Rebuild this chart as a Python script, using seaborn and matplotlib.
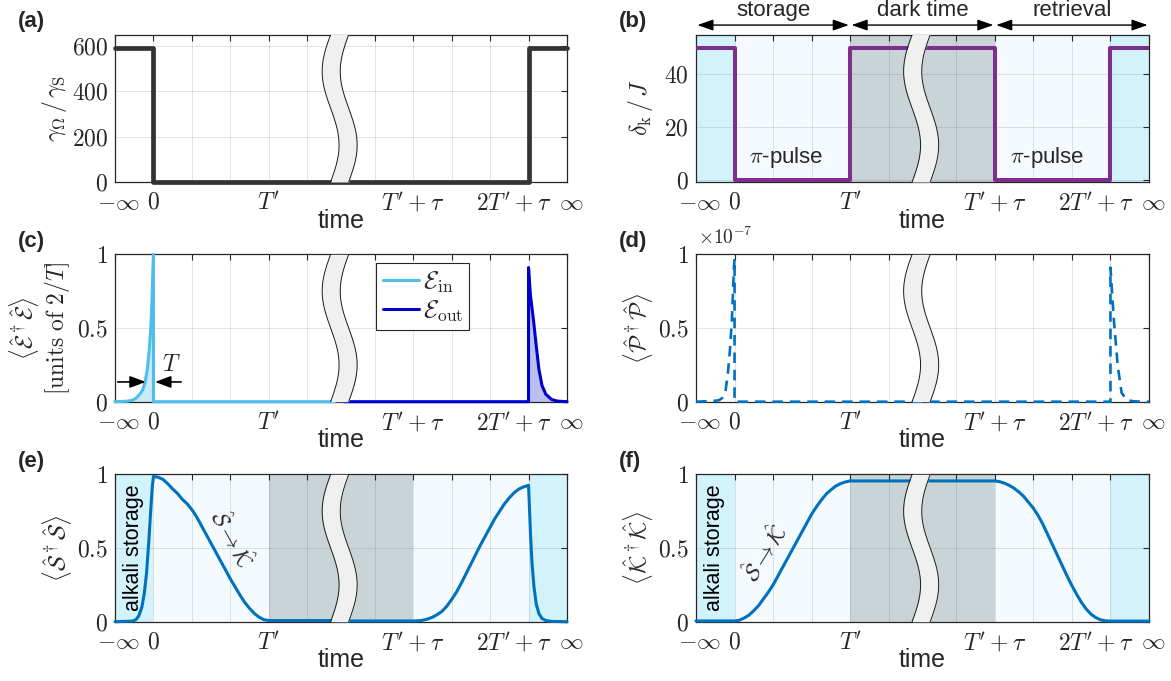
import numpy as np
import matplotlib
matplotlib.use("Agg")
import matplotlib.pyplot as plt
import matplotlib.transforms as mtrans
import seaborn as sns

# --- time axis (broken axis, in grid units) ---
T_NEG_INF, T_ZERO, T_PRIME, T_PRIME_TAU, T_2PRIME_TAU, T_INF = 0, 1, 4, 7.75, 10.75, 11.75
GRID_X = [0, 1, 2, 3, 4, 5, 6.75, 7.75, 8.75, 9.75, 10.75, 11.75]
XTICK_LABELS = {0: r"$-\infty$", 1: r"$0$", 4: r"$T'$", 7.75: r"$T'+\tau$",
                10.75: r"$2T'+\tau$", 11.75: r"$\infty$"}

# --- (a) control field ---
A_T = [0, 1, 1, 10.75, 10.75, 11.75]
A_Y = [590, 590, 0, 0, 590, 590]

# --- (b) detuning ---
B_T = [0, 1, 1, 4, 4, 7.75, 7.75, 10.75, 10.75, 11.75]
B_Y = [50, 50, 0, 0, 50, 50, 0, 0, 50, 50]

# --- (c) photon fields ---
EIN_T = [0, 0.3, 0.45, 0.55, 0.64, 0.72, 0.78, 0.84, 0.89, 0.93, 0.96, 0.985, 1.0, 1.0, 5.7]
EIN_Y = [0, 0.003, 0.01, 0.025, 0.05, 0.08, 0.13, 0.22, 0.35, 0.5, 0.68, 0.88, 1.0, 0, 0]
EOUT_T = [5.95, 10.75, 10.75, 10.8, 10.88, 10.95, 11.02, 11.1, 11.2, 11.35, 11.5, 11.75]
EOUT_Y = [0, 0, 0.91, 0.72, 0.55, 0.38, 0.22, 0.11, 0.05, 0.015, 0.004, 0]

# --- (d) polarization (x1e-7) ---
P_T = [0, 0.45, 0.6, 0.68, 0.76, 0.83, 0.88, 0.93, 0.96, 0.985, 1.0, 1.0,
       10.75, 10.75, 10.84, 10.94, 11.04, 11.18, 11.35, 11.55, 11.75]
P_Y = [0, 0.005, 0.01, 0.025, 0.06, 0.2, 0.35, 0.55, 0.75, 0.92, 0.97, 0,
       0, 0.91, 0.55, 0.24, 0.06, 0.01, 0.003, 0, 0]

# --- (e) alkali spin wave ---
S_T = [0, 0.45, 0.55, 0.62, 0.7, 0.76, 0.82, 0.88, 0.93, 0.97, 1.0,
       1.125, 1.25, 1.375, 1.5, 1.625, 1.75, 1.875, 2.0, 2.125, 2.25, 2.375, 2.5,
       2.625, 2.75, 2.875, 3.0, 3.125, 3.25, 3.375, 3.5, 3.625, 3.75, 3.875, 4.0,
       5.7, 5.95, 7.75, 7.875, 8.0, 8.125, 8.25, 8.375, 8.5, 8.625, 8.75, 8.875, 9.0,
       9.125, 9.25, 9.375, 9.5, 9.625, 9.75, 9.875, 10.0, 10.125, 10.25, 10.375, 10.5,
       10.625, 10.75, 10.77, 10.8, 10.84, 10.89, 10.95, 11.02, 11.1, 11.2, 11.35, 11.75]
S_Y = [0, 0.004, 0.015, 0.04, 0.1, 0.19, 0.33, 0.55, 0.76, 0.92, 0.985,
       0.98, 0.965, 0.935, 0.9, 0.87, 0.83, 0.8, 0.76, 0.71, 0.65, 0.59, 0.53,
       0.47, 0.41, 0.35, 0.29, 0.235, 0.18, 0.13, 0.09, 0.055, 0.03, 0.013, 0.008,
       0.008, 0.005, 0.005, 0.006, 0.01, 0.018, 0.03, 0.048, 0.07, 0.105, 0.15, 0.2, 0.26,
       0.325, 0.39, 0.455, 0.52, 0.58, 0.64, 0.7, 0.75, 0.8, 0.84, 0.875, 0.9,
       0.915, 0.925, 0.8, 0.6, 0.4, 0.24, 0.12, 0.055, 0.022, 0.008, 0.002, 0]

# --- (f) krypton storage ---
K_T = [0, 1.0, 1.125, 1.25, 1.375, 1.5, 1.625, 1.75, 1.875, 2.0, 2.125, 2.25, 2.375,
       2.5, 2.625, 2.75, 2.875, 3.0, 3.125, 3.25, 3.375, 3.5, 3.625, 3.75, 3.875, 4.0,
       7.75, 7.875, 8.0, 8.125, 8.25, 8.375, 8.5, 8.625, 8.75, 8.875, 9.0, 9.125, 9.25,
       9.375, 9.5, 9.625, 9.75, 9.875, 10.0, 10.125, 10.25, 10.375, 10.5, 10.625, 10.75,
       11.75]
K_Y = [0.005, 0.005, 0.01, 0.025, 0.045, 0.075, 0.11, 0.155, 0.2, 0.25, 0.31, 0.37, 0.43,
       0.49, 0.55, 0.61, 0.67, 0.73, 0.78, 0.825, 0.865, 0.895, 0.92, 0.937, 0.948, 0.955,
       0.955, 0.95, 0.94, 0.925, 0.905, 0.88, 0.85, 0.81, 0.77, 0.72, 0.66, 0.59, 0.52,
       0.45, 0.38, 0.31, 0.245, 0.185, 0.13, 0.085, 0.05, 0.027, 0.012, 0.006, 0.004,
       0.004]

# shaded phases: (start, end, colour)
PHASES = [(0, 1, "#d2f3fc"), (1, 4, "#f4fafd"), (4, 7.75, "#c9d4d6"),
          (7.75, 10.75, "#f4fafd"), (10.75, 11.75, "#d2f3fc")]

# break decoration
BREAK_X, BREAK_AMP, BREAK_HW = 5.84, 0.22, 0.235

sns.set_theme(style="white")
plt.rcParams['font.family'] = ['Liberation Sans', 'DejaVu Sans']
plt.rcParams['mathtext.fontset'] = 'cm'
plt.rcParams['axes.edgecolor'] = '#262626'
plt.rcParams['axes.linewidth'] = 0.9

W, H = 1171, 681
fig = plt.figure(figsize=(W / 100, H / 100), dpi=100)

cols = [(115, 452), (696, 453)]
rows = [(34.5, 182), (254.3, 401.7), (474.3, 621.7)]
axes = {}
names = iter("abcdef")
for top, bot in rows:
    for left, wid in cols:
        n = next(names)
        axes[n] = fig.add_axes([left / W, 1 - bot / H, wid / W, (bot - top) / H])


def style_axis(ax, yticks, ylabels, ylim):
    ax.set_xlim(T_NEG_INF, T_INF)
    ax.set_ylim(*ylim)
    ax.set_xticks(GRID_X)
    ax.set_xticklabels([XTICK_LABELS.get(x, "") for x in GRID_X])
    ax.set_yticks(yticks)
    ax.set_yticklabels(ylabels)
    ax.set_axisbelow(True)
    ax.grid(True, color="#262626", alpha=0.12, lw=0.7)
    ax.tick_params(direction="in", length=4, width=0.8, top=True, right=True,
                   labelsize=17, colors="#262626", pad=5)
    ax.tick_params(axis="x", pad=7)
    ax.set_xlabel("time", fontsize=18, color="#262626")
    ax.xaxis.set_label_coords(0.5, -0.18)
    for tick in ax.xaxis.get_major_ticks():
        txt = tick.label1.get_text()
        dx = {XTICK_LABELS[0]: 3, XTICK_LABELS[10.75]: -15, XTICK_LABELS[11.75]: 4}.get(txt, 0)
        if dx:
            tick.label1.set_transform(tick.label1.get_transform() +
                                      mtrans.ScaledTranslation(dx / 100, 0, fig.dpi_scale_trans))


def shade_phases(ax):
    for a, b, c in PHASES:
        ax.axvspan(a, b, color=c, lw=0, zorder=0.2)


def draw_break(ax):
    s = np.linspace(0, 1, 200)
    yy = 1 - s
    xc = BREAK_X - BREAK_AMP * np.sin(2 * np.pi * s)
    tr = ax.get_xaxis_transform()
    ax.fill_betweenx(yy, xc - BREAK_HW, xc + BREAK_HW, transform=tr,
                     color="#f0f0f0", lw=0, zorder=6)
    for side in (-1, 1):
        ax.plot(xc + side * BREAK_HW, yy, transform=tr, color="#1a1a1a", lw=0.7, zorder=7)


# (a)
ax = axes["a"]
sns.lineplot(x=A_T, y=A_Y, ax=ax, estimator=None, sort=False, color="#333333",
             linewidth=3.4, clip_on=False, zorder=3)
style_axis(ax, [0, 200, 400, 600], ["$0$", "$200$", "$400$", "$600$"], (0, 650))
ax.set_ylabel(r"$\gamma_\Omega\,/\,\gamma_\mathrm{S}$", fontsize=17)
ax.yaxis.set_label_coords(-0.102, 0.5)
draw_break(ax)

# (b)
ax = axes["b"]
shade_phases(ax)
sns.lineplot(x=B_T, y=B_Y, ax=ax, estimator=None, sort=False, color="#7e2f8e",
             linewidth=2.9, zorder=3)
style_axis(ax, [0, 20, 40], ["$0$", "$20$", "$40$"], (-0.8, 55))
ax.set_ylabel(r"$\delta_\mathrm{k}\,/\,J$", fontsize=17)
ax.yaxis.set_label_coords(-0.0905, 0.5)
ax.text(2.35, 8.5, r"$\pi$-pulse", fontsize=16, ha="center", va="center", zorder=4)
ax.text(9.1, 8.5, r"$\pi$-pulse", fontsize=16, ha="center", va="center", zorder=4)
for (x0, x1), name in zip([(T_NEG_INF, T_PRIME), (T_PRIME, T_PRIME_TAU), (T_PRIME_TAU, T_INF)],
                          ["storage", "dark time", "retrieval"]):
    ax.annotate("", xy=(x0, 1.064), xytext=(x1, 1.064), xycoords=("data", "axes fraction"),
                textcoords=("data", "axes fraction"), annotation_clip=False,
                arrowprops=dict(arrowstyle="<|-|>,head_length=0.8,head_width=0.28",
                                color="black", lw=1.0, shrinkA=1, shrinkB=1))
    ax.text((x0 + x1) / 2, 1.166, name, transform=ax.get_xaxis_transform(), fontsize=16,
            ha="center", va="center")
draw_break(ax)

# (c)
ax = axes["c"]
ax.fill_between(EIN_T, EIN_Y, color="#4dbeee", alpha=0.3, lw=0, zorder=2)
ax.fill_between(EOUT_T, EOUT_Y, color="#3a4fd8", alpha=0.35, lw=0, zorder=2)
sns.lineplot(x=EIN_T, y=EIN_Y, ax=ax, estimator=None, sort=False, color="#4dbeee",
             linewidth=2.2, clip_on=False, zorder=3, label=r"$\mathcal{E}_\mathrm{in}$")
sns.lineplot(x=EOUT_T, y=EOUT_Y, ax=ax, estimator=None, sort=False, color="#0000cd",
             linewidth=2.2, clip_on=False, zorder=3, label=r"$\mathcal{E}_\mathrm{out}$")
style_axis(ax, [0, 0.5, 1], ["$0$", "$0.5$", "$1$"], (0, 1))
ax.set_ylabel("$\\langle\\hat{\\mathcal{E}}^\\dagger\\hat{\\mathcal{E}}\\rangle$\n"
              "$[\\mathrm{units\\ of\\ }2/T]$", fontsize=17, linespacing=1.1)
ax.yaxis.set_label_coords(-0.095, 0.5)
leg = ax.legend(loc="upper left", bbox_to_anchor=(0.578, 0.94), fontsize=18, frameon=True,
                fancybox=False, framealpha=1, edgecolor="#262626", handlelength=1.45,
                handletextpad=0.15, borderpad=0.25, labelspacing=0.15, borderaxespad=0)
leg.get_frame().set_linewidth(0.8)
leg.set_zorder(8)
arrow = dict(arrowstyle="-|>,head_length=0.8,head_width=0.3", color="black", lw=1.2,
             shrinkA=0, shrinkB=0)
ax.annotate("", xy=(0.8, 0.134), xytext=(0.07, 0.134), arrowprops=arrow, zorder=5)
ax.annotate("", xy=(1.04, 0.134), xytext=(1.72, 0.134), arrowprops=arrow, zorder=5)
ax.text(1.47, 0.25, "$T$", fontsize=17, ha="center", va="center")
draw_break(ax)

# (d)
ax = axes["d"]
sns.lineplot(x=P_T, y=P_Y, ax=ax, estimator=None, sort=False, color="#0072bd",
             linewidth=1.9, linestyle=(0, (4, 2.6)), clip_on=False, zorder=3)
style_axis(ax, [0, 0.5, 1], ["$0$", "$0.5$", "$1$"], (0, 1))
ax.set_ylabel(r"$\langle\hat{\mathcal{P}}^\dagger\hat{\mathcal{P}}\rangle$", fontsize=17)
ax.yaxis.set_label_coords(-0.09, 0.5)
ax.text(0.005, 1.045, r"$\times10^{-7}$", transform=ax.transAxes, fontsize=14,
        ha="left", va="bottom")
draw_break(ax)

# (e)
ax = axes["e"]
shade_phases(ax)
sns.lineplot(x=S_T, y=S_Y, ax=ax, estimator=None, sort=False, color="#0072bd",
             linewidth=2.2, clip_on=False, zorder=3)
style_axis(ax, [0, 0.5, 1], ["$0$", "$0.5$", "$1$"], (0, 1))
ax.set_ylabel(r"$\langle\hat{\mathcal{S}}^\dagger\hat{\mathcal{S}}\rangle$", fontsize=17)
ax.yaxis.set_label_coords(-0.091, 0.5)
ax.text(0.47, 0.5, "alkali storage", rotation=90, fontsize=15.5, ha="center", va="center",
        color="black")
ax.text(3.02, 0.56, r"$\hat{\mathcal{S}}\rightarrow\hat{\mathcal{K}}$", rotation=-61,
        rotation_mode="anchor", fontsize=16, ha="center", va="center")
draw_break(ax)

# (f)
ax = axes["f"]
shade_phases(ax)
sns.lineplot(x=K_T, y=K_Y, ax=ax, estimator=None, sort=False, color="#0072bd",
             linewidth=2.2, clip_on=False, zorder=3)
style_axis(ax, [0, 0.5, 1], ["$0$", "$0.5$", "$1$"], (0, 1))
ax.set_ylabel(r"$\langle\hat{\mathcal{K}}^\dagger\hat{\mathcal{K}}\rangle$", fontsize=17)
ax.yaxis.set_label_coords(-0.09, 0.5)
ax.text(0.47, 0.5, "alkali storage", rotation=90, fontsize=15.5, ha="center", va="center",
        color="black")
ax.text(1.82, 0.46, r"$\hat{\mathcal{S}}\rightarrow\hat{\mathcal{K}}$", rotation=58,
        rotation_mode="anchor", fontsize=16, ha="center", va="center")
draw_break(ax)

# panel labels
for n, (x, y) in zip("abcdef", [(18, 22), (619, 22), (18, 241), (619, 241), (18, 461), (619, 461)]):
    fig.text(x / W, 1 - y / H, f"({n})", fontsize=16, fontweight="bold", ha="left", va="center")

fig.savefig("out.png", dpi=100)
